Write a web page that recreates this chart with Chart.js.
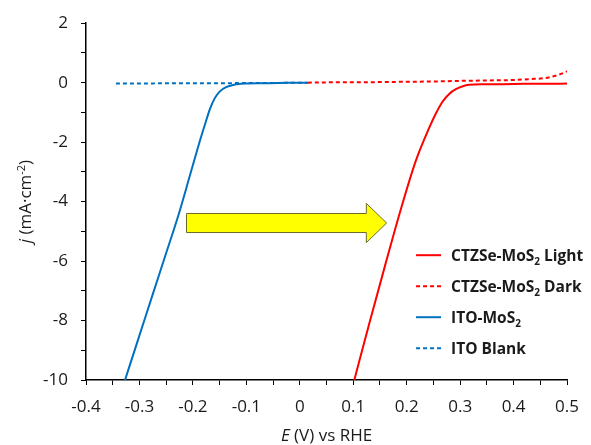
<!DOCTYPE html>
<html>
<head>
<meta charset="utf-8">
<script src="https://cdn.jsdelivr.net/npm/chart.js@4.4.0/dist/chart.umd.min.js"></script>
<style>
  html, body { margin: 0; padding: 0; background: #fff; }
  #wrap { width: 591px; height: 445px; }
</style>
</head>
<body>
<div id="wrap"><canvas id="canvasJV"></canvas></div>
<script>
// potential E (V vs RHE) and current density j (mA/cm2)
var ctzLightE = [0.102, 0.130, 0.160, 0.190, 0.217, 0.242, 0.255, 0.267, 0.280, 0.292, 0.305, 0.317, 0.340, 0.380, 0.420, 0.460, 0.500];
var ctzLightJ = [-10, -8.1, -6.12, -4.2, -2.63, -1.52, -1.02, -0.64, -0.37, -0.22, -0.12, -0.07, -0.05, -0.05, -0.04, -0.04, -0.03];

var ctzDarkE = [0.015, 0.056, 0.10, 0.15, 0.20, 0.25, 0.30, 0.336, 0.37, 0.40, 0.43, 0.46, 0.485, 0.50];
var ctzDarkJ = [0.0, 0.01, 0.01, 0.02, 0.03, 0.04, 0.06, 0.07, 0.08, 0.09, 0.12, 0.16, 0.27, 0.38];

var itoMosE = [-0.327, -0.300, -0.275, -0.250, -0.227, -0.206, -0.187, -0.177, -0.168, -0.159, -0.150, -0.138, -0.125, -0.110, -0.100, -0.07, -0.04, -0.01, 0.015];
var itoMosJ = [-10, -8.5, -7.11, -5.73, -4.45, -3.15, -1.96, -1.38, -0.88, -0.52, -0.30, -0.15, -0.08, -0.04, -0.03, -0.02, -0.01, -0.005, 0.0];

var itoBlankE = [-0.344, -0.30, -0.25, -0.20, -0.15, -0.10, -0.05, 0.0, 0.015];
var itoBlankJ = [-0.03, -0.03, -0.02, -0.02, -0.02, -0.01, -0.01, 0.0, 0.0];

var seriesNames = ['CTZSe-MoS₂ Light', 'CTZSe-MoS₂ Dark', 'ITO-MoS₂', 'ITO Blank'];

var xTickLabels = [-0.4, -0.3, -0.2, -0.1, 0, 0.1, 0.2, 0.3, 0.4, 0.5];
var yTickLabels = [-10, -8, -6, -4, -2, 0, 2];

// yellow arrow, in data units
var arrowFrom = [-0.212, -4.72];
var arrowTo = [0.1625, -4.72];

function pts(xs, ys) {
  var out = [];
  for (var i = 0; i < xs.length; i++) out.push({x: xs[i], y: ys[i]});
  return out;
}

var RED = '#ff0000';
var BLUE = '#0070c0';
var FONT = "'Open Sans', sans-serif";

function drawSegs(ctx, segs, x, y, size) {
  // segs: [text, style] where style is '', 'i', 'sub', 'sup', 'b', 'bsub'
  var w = 0, i;
  var fonts = [];
  for (i = 0; i < segs.length; i++) {
    var st = segs[i][1], f;
    if (st == 'i') f = 'italic ' + size + 'px ' + FONT;
    else if (st == 'sub' || st == 'sup') f = Math.round(size * 0.65) + 'px ' + FONT;
    else if (st == 'b') f = 'bold ' + size + 'px ' + FONT;
    else if (st == 'bsub') f = 'bold ' + Math.round(size * 0.65) + 'px ' + FONT;
    else f = size + 'px ' + FONT;
    fonts.push(f);
    ctx.font = f;
    w += ctx.measureText(segs[i][0]).width;
  }
  return {width: w, draw: function(x0) {
    var cx = x0;
    for (var k = 0; k < segs.length; k++) {
      ctx.font = fonts[k];
      var dy = 0;
      if (segs[k][1] == 'sub' || segs[k][1] == 'bsub') dy = size * 0.25;
      if (segs[k][1] == 'sup') dy = -size * 0.38;
      ctx.fillText(segs[k][0], cx, y + dy);
      cx += ctx.measureText(segs[k][0]).width;
    }
  }};
}

function labelSegs(txt, bold) {
  var parts = txt.split('₂');
  var segs = [];
  for (var i = 0; i < parts.length; i++) {
    if (parts[i]) segs.push([parts[i], bold ? 'b' : '']);
    if (i < parts.length - 1) segs.push(['2', bold ? 'bsub' : 'sub']);
  }
  return segs;
}

var extras = {
  id: 'extras',
  beforeDatasetsDraw: function(chart) {
    var ctx = chart.ctx, xs = chart.scales.x, ys = chart.scales.y;
    var x0 = xs.getPixelForValue(arrowFrom[0]);
    var x1 = xs.getPixelForValue(arrowTo[0]);
    var yc = ys.getPixelForValue(arrowFrom[1]);
    var sh = ys.getPixelForValue(-0.32) - ys.getPixelForValue(0);
    var hh = ys.getPixelForValue(-0.66) - ys.getPixelForValue(0);
    var hx = x1 - (xs.getPixelForValue(0.038) - xs.getPixelForValue(0));
    ctx.save();
    ctx.beginPath();
    ctx.moveTo(x0, yc - sh);
    ctx.lineTo(hx, yc - sh);
    ctx.lineTo(hx, yc - hh);
    ctx.lineTo(x1, yc);
    ctx.lineTo(hx, yc + hh);
    ctx.lineTo(hx, yc + sh);
    ctx.lineTo(x0, yc + sh);
    ctx.closePath();
    ctx.fillStyle = '#ffff00';
    ctx.fill();
    ctx.strokeStyle = '#6e6a2c';
    ctx.lineWidth = 1;
    ctx.stroke();
    ctx.restore();
  },
  afterDraw: function(chart) {
    var ctx = chart.ctx, area = chart.chartArea;
    ctx.save();
    ctx.fillStyle = '#1a1a1a';
    ctx.textBaseline = 'alphabetic';

    // x axis title
    var xt = drawSegs(ctx, [['E', 'i'], [' (V) vs RHE', '']], 0, 441, 17);
    xt.draw((area.left + area.right) / 2 - xt.width / 2);

    // y axis title, rotated
    ctx.save();
    ctx.translate(31, (area.top + area.bottom) / 2);
    ctx.rotate(-Math.PI / 2);
    var yt = drawSegs(ctx, [['j', 'i'], [' (mA·cm', ''], ['-2', 'sup'], [')', '']], 0, 0, 17);
    yt.draw(-yt.width / 2);
    ctx.restore();

    // legend inside the plot
    var lx = area.right - 151, ly = area.top + 232;
    chart.data.datasets.forEach(function(ds, i) {
      var y = ly + i * 31;
      ctx.save();
      ctx.strokeStyle = ds.borderColor;
      ctx.lineWidth = 2;
      ctx.setLineDash(ds.borderDash || []);
      ctx.beginPath();
      ctx.moveTo(lx, y);
      ctx.lineTo(lx + 25, y);
      ctx.stroke();
      ctx.restore();
      var lt = drawSegs(ctx, labelSegs(ds.label, true), 0, y + 5.5, 15.5);
      lt.draw(lx + 35);
    });
    ctx.restore();
  }
};

var ctx = document.getElementById('canvasJV');

var jvChart = new Chart(ctx, {
  type: 'line',
  data: {
    datasets: [
      {label: seriesNames[0], data: pts(ctzLightE, ctzLightJ), borderColor: RED, borderWidth: 2},
      {label: seriesNames[1], data: pts(ctzDarkE, ctzDarkJ), borderColor: RED, borderWidth: 2, borderDash: [4, 3]},
      {label: seriesNames[2], data: pts(itoMosE, itoMosJ), borderColor: BLUE, borderWidth: 2},
      {label: seriesNames[3], data: pts(itoBlankE, itoBlankJ), borderColor: BLUE, borderWidth: 2, borderDash: [4, 3]}
    ]
  },
  options: {
    responsive: true,
    maintainAspectRatio: false,
    animation: false,
    devicePixelRatio: 1,
    layout: {padding: {left: 0, right: 23, top: 22, bottom: 0}},
    elements: {
      point: {radius: 0, hoverRadius: 0},
      line: {cubicInterpolationMode: 'monotone', fill: false}
    },
    plugins: {legend: {display: false}, tooltip: {enabled: false}},
    scales: {
      x: {
        type: 'linear',
        min: -0.4,
        max: 0.5,
        afterFit: function(s) { s.height = 65; },
        grid: {drawOnChartArea: false, drawTicks: true, tickLength: 5, color: '#000', lineWidth: 1},
        border: {color: '#000', width: 1.5},
        ticks: {
          stepSize: 0.05,
          autoSkip: false,
          maxRotation: 0,
          padding: 12,
          color: '#1a1a1a',
          font: {family: FONT, size: 17},
          callback: function(v) {
            var r = Math.round(v * 100) / 100;
            if (xTickLabels.indexOf(r) < 0) return '';
            return r === 0 ? '0' : r.toFixed(1);
          }
        }
      },
      y: {
        min: -10,
        max: 2,
        afterFit: function(s) { s.width = 86; },
        grid: {drawOnChartArea: false, drawTicks: true, tickLength: 5, color: '#000', lineWidth: 1},
        border: {color: '#000', width: 1.5},
        ticks: {
          stepSize: 1,
          autoSkip: false,
          padding: 13,
          color: '#1a1a1a',
          font: {family: FONT, size: 17},
          callback: function(v) {
            return yTickLabels.indexOf(v) < 0 ? '' : String(v);
          }
        }
      }
    }
  },
  plugins: [extras]
});
</script>
</body>
</html>
